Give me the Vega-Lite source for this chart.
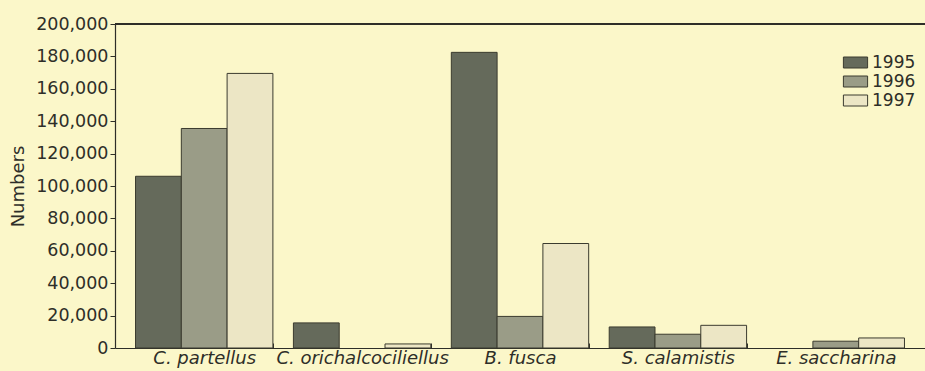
{
  "$schema": "https://vega.github.io/schema/vega-lite/v6.json",
  "autosize": {"type": "none"},
  "width": 810,
  "height": 324,
  "padding": {"left": 115, "top": 24, "right": 0, "bottom": 23},
  "background": "#fbf7c9",
  "config": {
    "view": {"stroke": null},
    "font": "DejaVu Sans",
    "axis": {"labelFont": "DejaVu Sans", "titleFont": "DejaVu Sans"},
    "legend": {"labelFont": "DejaVu Sans"}
  },
  "data": {
    "values": [
      {"species": "C. partellus", "year": "1995", "value": 106000},
      {"species": "C. partellus", "year": "1996", "value": 135500},
      {"species": "C. partellus", "year": "1997", "value": 169500},
      {"species": "C. orichalcociliellus", "year": "1995", "value": 15500},
      {"species": "C. orichalcociliellus", "year": "1997", "value": 2500},
      {"species": "B. fusca", "year": "1995", "value": 182500},
      {"species": "B. fusca", "year": "1996", "value": 19500},
      {"species": "B. fusca", "year": "1997", "value": 64500},
      {"species": "S. calamistis", "year": "1995", "value": 13000},
      {"species": "S. calamistis", "year": "1996", "value": 8500},
      {"species": "S. calamistis", "year": "1997", "value": 14000},
      {"species": "E. saccharina", "year": "1996", "value": 4200},
      {"species": "E. saccharina", "year": "1997", "value": 6200}
    ]
  },
  "resolve": {"axis": {"y": "independent"}},
  "layer": [
    {
      "mark": {"type": "bar", "stroke": "#3b3b2f", "strokeWidth": 1},
      "encoding": {
        "x": {
          "field": "species", "type": "nominal", "sort": null,
          "scale": {"paddingInner": 0.13, "paddingOuter": 0.13},
          "axis": {
            "title": null, "labelAngle": 0, "labelFontSize": 18, "labelFontStyle": "italic",
            "labelColor": "#2e2e28", "domainColor": "#2e2e28", "domainWidth": 1.2,
            "tickBand": "extent", "tickSize": -5, "tickColor": "#2e2e28", "labelPadding": 6,
            "labelOverlap": false, "labelBaseline": "top"
          }
        },
        "xOffset": {"field": "year", "type": "nominal", "scale": {"domain": ["1995", "1996", "1997"]}},
        "y": {
          "field": "value", "type": "quantitative",
          "scale": {"domain": [0, 200000], "nice": false},
          "axis": {
            "title": "Numbers", "titleFontSize": 18, "titleFontWeight": "normal", "titleColor": "#2e2e28",
            "titlePadding": 8, "labelFontSize": 17.5, "labelColor": "#2e2e28",
            "values": [0, 20000, 40000, 60000, 80000, 100000, 120000, 140000, 160000, 180000, 200000],
            "format": ",d", "grid": false, "domainColor": "#2e2e28", "domainWidth": 1.2,
            "tickColor": "#2e2e28", "tickSize": 5, "labelPadding": 2, "labelOverlap": false,
            "labelFlush": false
          }
        },
        "color": {
          "field": "year", "type": "nominal",
          "scale": {"domain": ["1995", "1996", "1997"], "range": ["#656a5b", "#9a9c87", "#ece6c5"]},
          "legend": {
            "title": null, "orient": "none", "legendX": 732, "legendY": 30,
            "symbolType": "M-2.2,-1h4.4v2h-4.4z", "symbolSize": 121, "symbolStrokeColor": "#3b3b2f",
            "symbolStrokeWidth": 1, "labelFontSize": 17, "labelColor": "#2e2e28", "rowPadding": 1,
            "labelOffset": 8
          }
        }
      }
    },
    {
      "mark": {"type": "rule", "color": "#2e2e28", "strokeWidth": 1.2},
      "encoding": {"y": {"datum": 200000, "axis": null}}
    }
  ]
}
